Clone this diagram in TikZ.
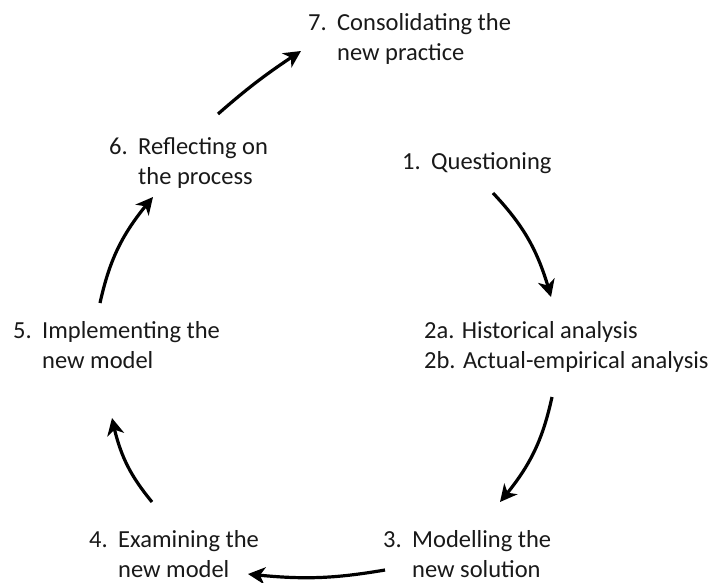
\documentclass[tikz,border=0pt]{standalone}
\usepackage{fontspec}
\setmainfont{Carlito}
\usetikzlibrary{arrows.meta,bending}

\newcommand{\numtwo}[3]{\begin{tabular}[t]{@{}p{29pt}@{}l@{}}#1 & #2\\ & #3\end{tabular}}

\tikzset{
  phase/.style={inner sep=0pt, anchor=base west, text=black!90,
    font=\fontsize{24.5}{30}\selectfont},
  cycarrow/.style={line width=3.2pt, black,
    -{Stealth[length=17pt,width=17pt,inset=5pt,flex]}},
}

\begin{document}
\begin{tikzpicture}[x=1pt,y=-1pt]
        \useasboundingbox (0,0) rectangle (713,583);

        % Phases of the cycle
        \node[phase] (con7) at (308,31) {\numtwo{7.}{Consolidating the}{new practice}};
        \node[phase] (ref6) at (109,155) {\numtwo{6.}{Reflecting on}{the process}};
        \node[phase] (que1) at (402,170) {\numtwo{1.}{Questioning}{}};
        \node[phase] (imp5) at (13,338) {\numtwo{5.}{Implementing the}{new model}};
        \node[phase] (ana2) at (424,338) {\begin{tabular}[t]{@{}l@{}}2a. Historical analysis\\2b. Actual-empirical analysis\end{tabular}};
        \node[phase] (exa4) at (89,547) {\numtwo{4.}{Examining the}{new model}};
        \node[phase] (mod3) at (383,547) {\numtwo{3.}{Modelling the}{new solution}};

        % Arrow ends
        \coordinate (que1-out) at (493,193);
        \coordinate (ana2-in) at (551,297);
        \coordinate (ana2-out) at (552,397);
        \coordinate (mod3-in) at (500,502);
        \coordinate (mod3-out) at (385,570);
        \coordinate (exa4-in) at (248,574);
        \coordinate (exa4-out) at (152,502);
        \coordinate (imp5-in) at (112,418);
        \coordinate (imp5-out) at (100,303);
        \coordinate (ref6-in) at (153,197);
        \coordinate (ref6-out) at (218,114);
        \coordinate (con7-in) at (301,51);

        \draw[cycarrow] (que1-out) to[bend left=14] (ana2-in);
        \draw[cycarrow] (ana2-out) to[bend left=14] (mod3-in);
        \draw[cycarrow] (mod3-out) to[bend left=8] (exa4-in);
        \draw[cycarrow] (exa4-out) to[bend left=14] (imp5-in);
        \draw[cycarrow] (imp5-out) to[bend left=14] (ref6-in);
        \draw[cycarrow] (ref6-out) to[bend left=4] (con7-in);
\end{tikzpicture}
\end{document}
